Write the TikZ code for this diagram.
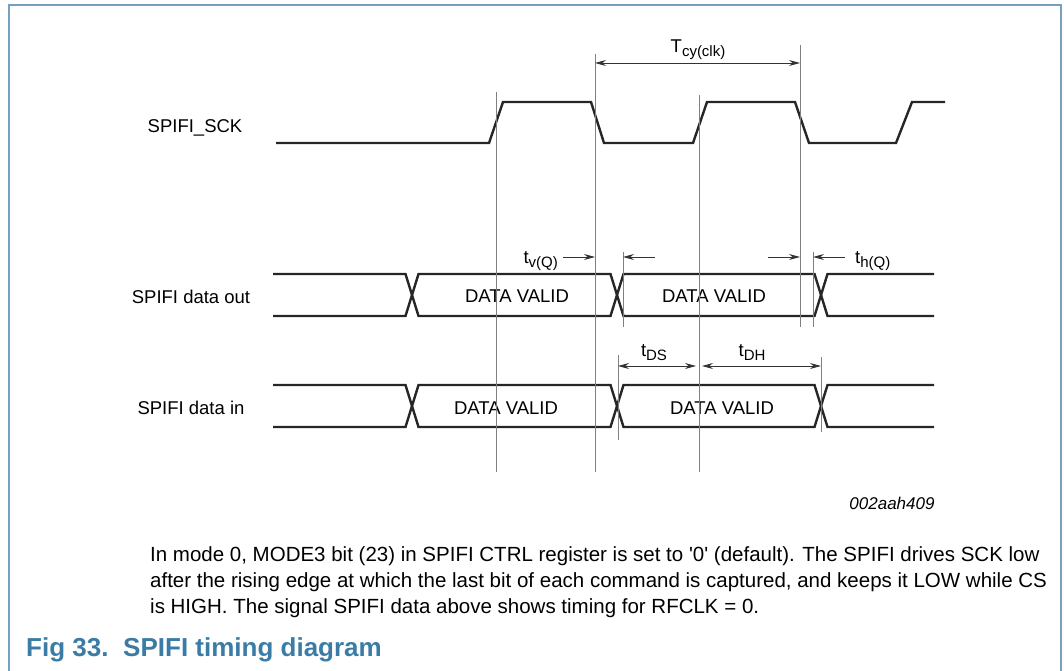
\documentclass[tikz,border=0pt]{standalone}
\usepackage{fontspec}
\setmainfont{Liberation Sans}
\usetikzlibrary{arrows.meta}
\definecolor{framecol}{RGB}{118,160,190}
\definecolor{capcol}{RGB}{58,124,166}
\newcommand{\lowsub}[1]{\raisebox{-4pt}{\fontsize{15}{16}\selectfont #1}}
\tikzset{
  sig/.style={line width=2.4pt, black!85, line join=miter},
  edgeline/.style={line width=0.9pt, black!50},
  dim/.style={line width=0.9pt, black!80, -{Stealth[length=11pt,width=6pt]}},
  dimboth/.style={dim, {Stealth[length=11pt,width=6pt]}-{Stealth[length=11pt,width=6pt]}},
  lbl/.style={font=\fontsize{18.5}{20}\selectfont, inner sep=0pt},
}
\begin{document}
\begin{tikzpicture}[x=1pt,y=-1pt]
\useasboundingbox (0,0) rectangle (1064,671);
\draw[framecol, line width=1.4pt] (9,671) -- (9,5) -- (1061,5) -- (1061,671);

% signal names
\node[lbl] (sck) at (195,128) {SPIFI\_SCK};
\node[lbl] (dout) at (191,297) {SPIFI data out};
\node[lbl] (din) at (191,408) {SPIFI data in};

% clock
\draw[sig] (276,143) -- (489,143) -- (503,102) -- (591,102) -- (604,143)
  -- (693,143) -- (707,102) -- (795,102) -- (809,143) -- (896,143)
  -- (912,102) -- (945,102);

% data buses
\foreach \yt/\yb in {274/316, 385/427} {
  \pgfmathsetmacro{\ym}{(\yt+\yb)/2}
  \draw[sig] (273,\yt) -- (405.5,\yt) -- (412,\ym) -- (405.5,\yb) -- (273,\yb);
  \draw[sig] (412,\ym) -- (418.5,\yt) -- (610.5,\yt) -- (617,\ym) -- (610.5,\yb) -- (418.5,\yb) -- cycle;
  \draw[sig] (617,\ym) -- (623.5,\yt) -- (814.5,\yt) -- (821,\ym) -- (814.5,\yb) -- (623.5,\yb) -- cycle;
  \draw[sig] (934,\yt) -- (827.5,\yt) -- (821,\ym) -- (827.5,\yb) -- (934,\yb);
}
\node[lbl] (dv1) at (517,296) {DATA VALID};
\node[lbl] (dv2) at (714,296) {DATA VALID};
\node[lbl] (dv3) at (506,408) {DATA VALID};
\node[lbl] (dv4) at (722,408) {DATA VALID};

% timing edges
\foreach \x/\ya/\yb in {496/92/472, 595/54/472, 699/95/472, 800/45/327,
                        623/252/327, 813/252/327, 618/355/440, 821/357/432} {
  \draw[edgeline] (\x,\ya) -- (\x,\yb);
}

% clock period
\coordinate (tcyA) at (595,63);
\coordinate (tcyB) at (800,63);
\draw[dimboth] (tcyA) -- (tcyB);
\node[lbl] (tcy) at (698,50) {T\lowsub{cy(clk)}};

% output valid / hold
\coordinate (tvA) at (563,257);
\coordinate (tvB) at (595,257);
\draw[dim] (tvA) -- (tvB);
\node[lbl, anchor=east] (tv) at (558,261) {t\lowsub{v(Q)}};
\coordinate (tvC) at (655,257);
\coordinate (tvD) at (623,257);
\draw[dim] (tvC) -- (tvD);
\coordinate (thA) at (768,257);
\coordinate (thB) at (800,257);
\draw[dim] (thA) -- (thB);
\coordinate (thC) at (845,257);
\coordinate (thD) at (813,257);
\draw[dim] (thC) -- (thD);
\node[lbl, anchor=west] (th) at (855,261) {t\lowsub{h(Q)}};

% input setup / hold
\coordinate (dsA) at (618,366);
\coordinate (dsB) at (696,366);
\coordinate (dhA) at (702,366);
\coordinate (dhB) at (821,366);
\draw[dimboth] (dsA) -- (dsB);
\draw[dimboth] (dhA) -- (dhB);
\node[lbl] (tds) at (654,353) {t\lowsub{DS}};
\node[lbl] (tdh) at (752,353) {t\lowsub{DH}};

\node[font=\itshape\fontsize{17}{19}\selectfont, inner sep=0pt] (ref) at (892,503) {002aah409};

% note and caption
\node[anchor=north west, align=left, inner sep=0pt,
      font=\fontsize{20.5}{26}\selectfont] (note) at (150,546)
  {In mode 0, MODE3 bit (23) in SPIFI CTRL register is set to \textquotesingle 0\textquotesingle\ (default). The SPIFI drives SCK low\\
   after the rising edge at which the last bit of each command is captured, and keeps it LOW while CS\\
   is HIGH. The signal SPIFI data above shows timing for RFCLK = 0.};
\node[anchor=west, inner sep=0pt, text=capcol, font=\bfseries\fontsize{26}{28}\selectfont] (fig) at (26,650) {Fig 33.};
\node[anchor=west, inner sep=0pt, text=capcol, font=\bfseries\fontsize{26}{28}\selectfont] (title) at (123,650) {SPIFI timing diagram};
\end{tikzpicture}
\end{document}
